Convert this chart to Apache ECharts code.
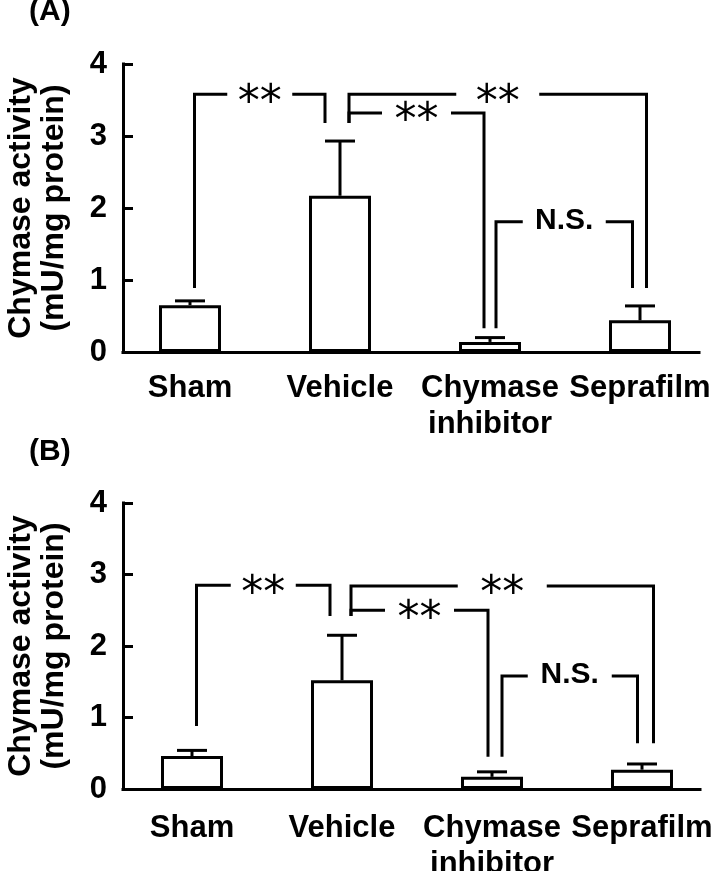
<!DOCTYPE html>
<html>
<head>
<meta charset="utf-8">
<script src="https://cdn.jsdelivr.net/npm/echarts@6/dist/echarts.min.js"></script>
<style>
html,body{margin:0;padding:0;background:#fff;}
#chart{width:725px;height:871px;}
</style>
</head>
<body>
<div id="chart"></div>
<script>
// ---------- data ----------
const categories = ['Sham', 'Vehicle', 'Chymase\ninhibitor', 'Seprafilm'];
const yMin = 0, yMax = 4, yStep = 1;
const yTitle = 'Chymase activity\n(mU/mg protein)';
const panelLabels = ['(A)', '(B)'];

const meanA = [0.65, 2.17, 0.14, 0.44];
const errTopA = [0.71, 2.93, 0.20, 0.64];
const meanB = [0.46, 1.52, 0.17, 0.27];
const errTopB = [0.54, 2.15, 0.24, 0.35];

// comparisons: [left category index, right category index]
const bracketPairs = [[0, 1], [1, 3], [1, 2], [2, 3]];
const bracketLabels = ['**', '**', '**', 'N.S.'];
const bracketTopA = [3.58, 3.58, 3.32, 1.81];
const bracketLeftEndA = [0.89, 3.18, 3.18, 0.33];
const bracketRightEndA = [3.18, 0.89, 0.33, 0.89];
const bracketTopB = [2.85, 2.84, 2.50, 1.58];
const bracketLeftEndB = [0.88, 2.42, 2.42, 0.45];
const bracketRightEndB = [2.42, 0.64, 0.45, 0.64];

// ---------- style ----------
const FONT = 'Liberation Sans, Arial, sans-serif';
const LW = 3;
const legOffA = {left: [4.5, 9, 9, 6], right: [-15, 6.5, -6, -7.5], gap: [65, 83, 69, 83]};
const legOffB = {left: [4.5, 9, 9, 10], right: [-12, 11.5, -4, -4.5], gap: [65, 89, 69, 84]};

const chart = echarts.init(document.getElementById('chart'), null, {renderer: 'canvas'});

function errRender(params, api) {
  const idx = api.value(0);
  const p0 = api.coord([idx, api.value(1)]);
  const p1 = api.coord([idx, api.value(2)]);
  const half = api.size([1, 0])[0] * 0.1;
  const st = {stroke: '#000', lineWidth: LW, fill: null};
  return {type: 'group', children: [
    {type: 'line', shape: {x1: p0[0], y1: p0[1], x2: p1[0], y2: p1[1]}, style: st},
    {type: 'line', shape: {x1: p1[0] - half, y1: p1[1], x2: p1[0] + half, y2: p1[1]}, style: st}
  ]};
}

function makeBracketRender(off) {
  return function (params, api) {
    const i = params.dataIndex;
    const li = api.value(0), ri = api.value(1);
    const pl = api.coord([li, api.value(2)]);
    const pt = api.coord([li, api.value(3)]);
    const pr = api.coord([ri, api.value(4)]);
    const xl = pl[0] + off.left[i];
    const xr = pr[0] + off.right[i];
    const yt = pt[1];
    const xm = (xl + xr) / 2;
    const g = off.gap[i] / 2;
    const label = bracketLabels[i];
    const st = {stroke: '#000', lineWidth: LW, fill: null, lineJoin: 'miter', lineCap: 'butt'};
    const isStar = label.indexOf('*') >= 0;
    return {type: 'group', children: [
      {type: 'polyline', shape: {points: [[xl, pl[1]], [xl, yt], [xm - g, yt]]}, style: st},
      {type: 'polyline', shape: {points: [[xm + g, yt], [xr, yt], [xr, pr[1]]]}, style: st},
      {type: 'text', x: xm, y: yt + (isStar ? 10 : -1), style: {
        text: label, fill: '#000', align: 'center', verticalAlign: 'middle',
        font: isStar ? '44px "DejaVu Sans"' : 'bold 30px ' + FONT
      }}
    ]};
  };
}

function panel(k, top, height, axLeft, axWidth, barLeft, mean, errTop, bTop, bL, bR, off, labelMargin) {
  const gAx = k * 2, gBar = k * 2 + 1;
  const grids = [
    {left: axLeft, top: top, width: axWidth, height: height, containLabel: false, outerBoundsMode: 'none'},
    {left: barLeft, top: top, width: 600, height: height, containLabel: false, outerBoundsMode: 'none'}
  ];
  const xAxes = [
    {gridIndex: gAx, type: 'value', min: 0, max: 1,
      axisLine: {show: true, lineStyle: {color: '#000', width: LW, cap: 'square'}},
      axisTick: {show: false}, axisLabel: {show: false}, splitLine: {show: false}},
    {gridIndex: gBar, type: 'category', data: categories,
      axisLine: {show: false}, axisTick: {show: false},
      axisLabel: {interval: 0, color: '#000', fontFamily: FONT, fontWeight: 'bold', fontSize: 31,
        lineHeight: 36, margin: labelMargin, hideOverlap: false}}
  ];
  const yAxes = [
    {gridIndex: gAx, type: 'value', min: yMin, max: yMax, interval: yStep,
      name: yTitle, nameLocation: 'middle', nameGap: 52, nameRotate: 90,
      nameTextStyle: {color: '#000', fontFamily: FONT, fontWeight: 'bold', fontSize: 32, lineHeight: 33},
      axisLine: {show: true, lineStyle: {color: '#000', width: LW, cap: 'square'}},
      axisTick: {show: true, inside: true, length: 10, lineStyle: {color: '#000', width: LW}},
      axisLabel: {color: '#000', fontFamily: FONT, fontWeight: 'bold', fontSize: 31, margin: 16},
      splitLine: {show: false}},
    {gridIndex: gBar, type: 'value', min: yMin, max: yMax, interval: yStep, show: false}
  ];
  const xb = k * 2 + 1, yb = k * 2 + 1;
  const series = [
    {type: 'bar', xAxisIndex: xb, yAxisIndex: yb, data: mean, barWidth: 62,
      itemStyle: {color: '#fff', borderColor: '#000', borderWidth: LW}, silent: true, animation: false},
    {type: 'custom', xAxisIndex: xb, yAxisIndex: yb, renderItem: errRender, clip: false, animation: false,
      data: mean.map((m, i) => [i, m, errTop[i]]), z: 5},
    {type: 'custom', xAxisIndex: xb, yAxisIndex: yb, renderItem: makeBracketRender(off), clip: false, animation: false,
      data: bracketPairs.map((p, i) => [p[0], p[1], bL[i], bTop[i], bR[i]]), z: 6}
  ];
  return {grids, xAxes, yAxes, series};
}

const pA = panel(0, 64, 288, 123, 576, 115, meanA, errTopA, bracketTopA, bracketLeftEndA, bracketRightEndA, legOffA, 18);
const pB = panel(1, 503, 286, 123, 577, 117, meanB, errTopB, bracketTopB, bracketLeftEndB, bracketRightEndB, legOffB, 21);

chart.setOption({
  animation: false,
  backgroundColor: '#fff',
  title: [
    {text: panelLabels[0], left: 29, top: -3, padding: 0, textStyle: {color: '#000', fontFamily: FONT, fontWeight: 'bold', fontSize: 30}},
    {text: panelLabels[1], left: 29, top: 437, padding: 0, textStyle: {color: '#000', fontFamily: FONT, fontWeight: 'bold', fontSize: 30}}
  ],
  grid: pA.grids.concat(pB.grids),
  xAxis: pA.xAxes.concat(pB.xAxes),
  yAxis: pA.yAxes.concat(pB.yAxes),
  series: pA.series.concat(pB.series)
});
</script>
</body>
</html>
